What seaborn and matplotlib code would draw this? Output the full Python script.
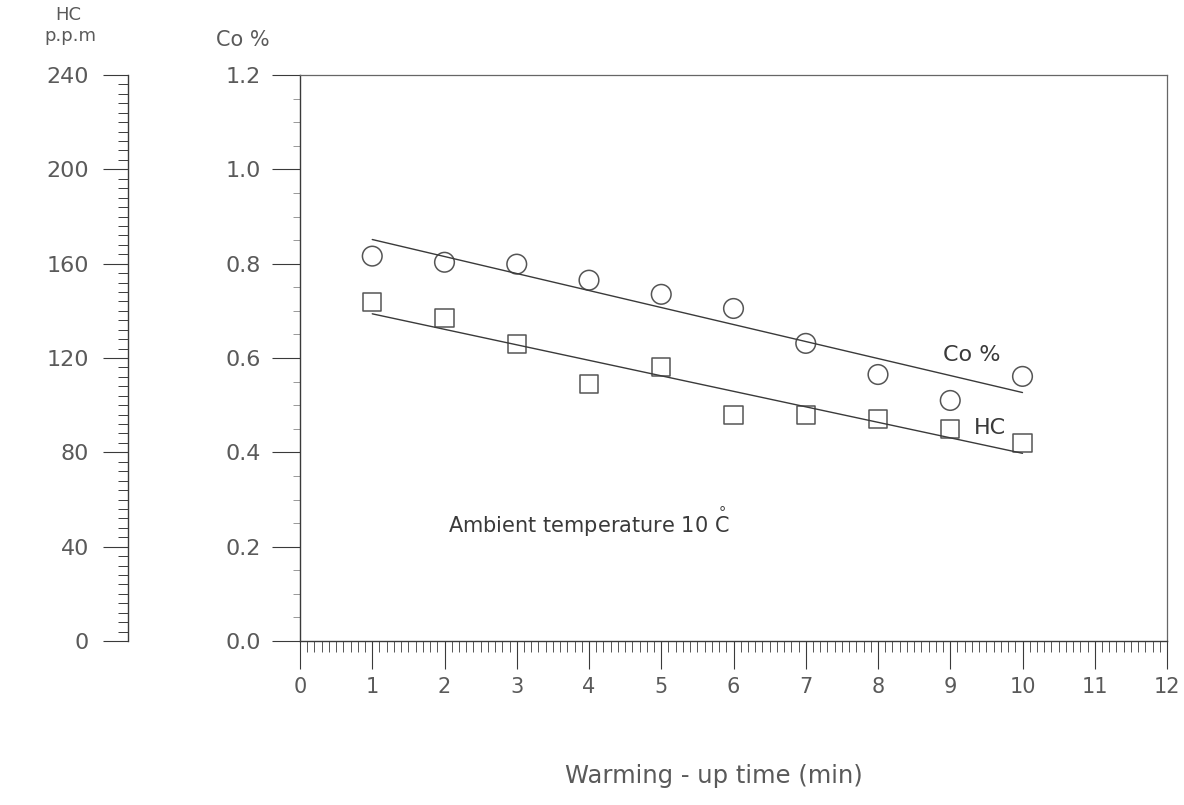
import matplotlib
matplotlib.use("Agg")
import matplotlib.pyplot as plt
from matplotlib.ticker import MultipleLocator, FormatStrFormatter
import seaborn as sns
import pandas as pd

# data
time_min = [1, 2, 3, 4, 5, 6, 7, 8, 9, 10]
co_pct = [0.816, 0.803, 0.799, 0.765, 0.735, 0.705, 0.631, 0.565, 0.510, 0.561]
hc_ppm = [143.6, 137, 126, 109, 116, 96, 96, 94, 90, 84]

df = pd.DataFrame({"time": time_min, "co": co_pct, "hc": hc_ppm})

sns.set_style("ticks")
plt.rcParams["font.family"] = ["DejaVu Sans"]

txt = "#5a5a5a"
ink = "#3a3a3a"

fig = plt.figure(figsize=(11.84, 8.05), dpi=100)
ax = fig.add_axes([300 / 1184, 1 - 641 / 805, (1167 - 300) / 1184, (641 - 75) / 805])
ax_hc = ax.twinx()

# ── Co % series ─────────────────────────────────────────────
sns.regplot(data=df, x="time", y="co", ax=ax, scatter=False, ci=None,
            line_kws=dict(color=ink, lw=1.0))
sns.scatterplot(data=df, x="time", y="co", ax=ax, marker="o", s=200,
                facecolor="none", edgecolor="#555555", linewidth=1.1)

# ── HC series (own scale) ──────────────────────────────────
sns.regplot(data=df, x="time", y="hc", ax=ax_hc, scatter=False, ci=None,
            line_kws=dict(color=ink, lw=1.0))
sns.scatterplot(data=df, x="time", y="hc", ax=ax_hc, marker="s", s=170,
                facecolor="none", edgecolor="#555555", linewidth=1.1)

# ── axes limits / ticks ────────────────────────────────────
ax.set_xlim(0, 12)
ax.set_ylim(0, 1.2)
ax_hc.set_ylim(0, 240)

ax.set_xticks(range(0, 13))
ax.xaxis.set_minor_locator(MultipleLocator(0.1))
ax.set_yticks([0, 0.2, 0.4, 0.6, 0.8, 1.0, 1.2])
ax.yaxis.set_major_formatter(FormatStrFormatter("%.1f"))
ax.yaxis.set_minor_locator(MultipleLocator(0.05))

ax_hc.set_yticks(range(0, 241, 40))
ax_hc.yaxis.set_minor_locator(MultipleLocator(4))
ax_hc.yaxis.set_ticks_position("left")
ax_hc.spines["left"].set_position(("outward", 124))
ax_hc.spines["left"].set_visible(True)
for s in ["right", "top", "bottom"]:
    ax_hc.spines[s].set_visible(False)

ax.tick_params(axis="x", which="major", length=20, width=0.8, color=ink,
               labelsize=15, labelcolor=txt, pad=6)
ax.tick_params(axis="x", which="minor", length=8, width=0.6, color=ink)
ax.tick_params(axis="y", which="major", length=20, width=0.8, color=ink,
               labelsize=16, labelcolor=txt, pad=8)
ax.tick_params(axis="y", which="minor", length=5, width=0.6, color="#888888")
ax_hc.tick_params(axis="y", which="major", length=18, width=0.8, color=ink,
                  labelsize=16, labelcolor=txt, pad=10)
ax_hc.tick_params(axis="y", which="minor", length=7, width=0.7, color=ink)

for s in ["left", "bottom"]:
    ax.spines[s].set_color(ink)
    ax.spines[s].set_linewidth(1.0)
for s in ["top", "right"]:
    ax.spines[s].set_visible(True)
    ax.spines[s].set_color("#666666")
    ax.spines[s].set_linewidth(0.9)
ax_hc.spines["left"].set_color(ink)
ax_hc.spines["left"].set_linewidth(1.0)

ax.set_ylabel("")
ax_hc.set_ylabel("")
ax.set_xlabel("")
fig.text(714 / 1184, 1 - 776 / 805, "Warming - up time (min)", fontsize=17.5,
         color=txt, ha="center", va="center")

# ── annotations ─────────────────────────────────────────────
ax.text(9.30, 0.606, "Co %", fontsize=16, color=ink, ha="center", va="center")
ax.text(9.55, 0.452, "HC", fontsize=16, color=ink, ha="center", va="center")
ax.text(2.05, 0.254, "Ambient temperature 10 $\\overset{\\circ}{\\mathrm{C}}$",
        fontsize=15, color=ink, ha="left", va="center")

fig.text(68 / 1184, 1 - 15 / 805, "HC", fontsize=13, color=txt, ha="center", va="center")
fig.text(70 / 1184, 1 - 36 / 805, "p.p.m", fontsize=13, color=txt, ha="center", va="center")
fig.text(243 / 1184, 1 - 40 / 805, "Co %", fontsize=15, color=txt, ha="center", va="center")

fig.savefig("out.png", dpi=100)
